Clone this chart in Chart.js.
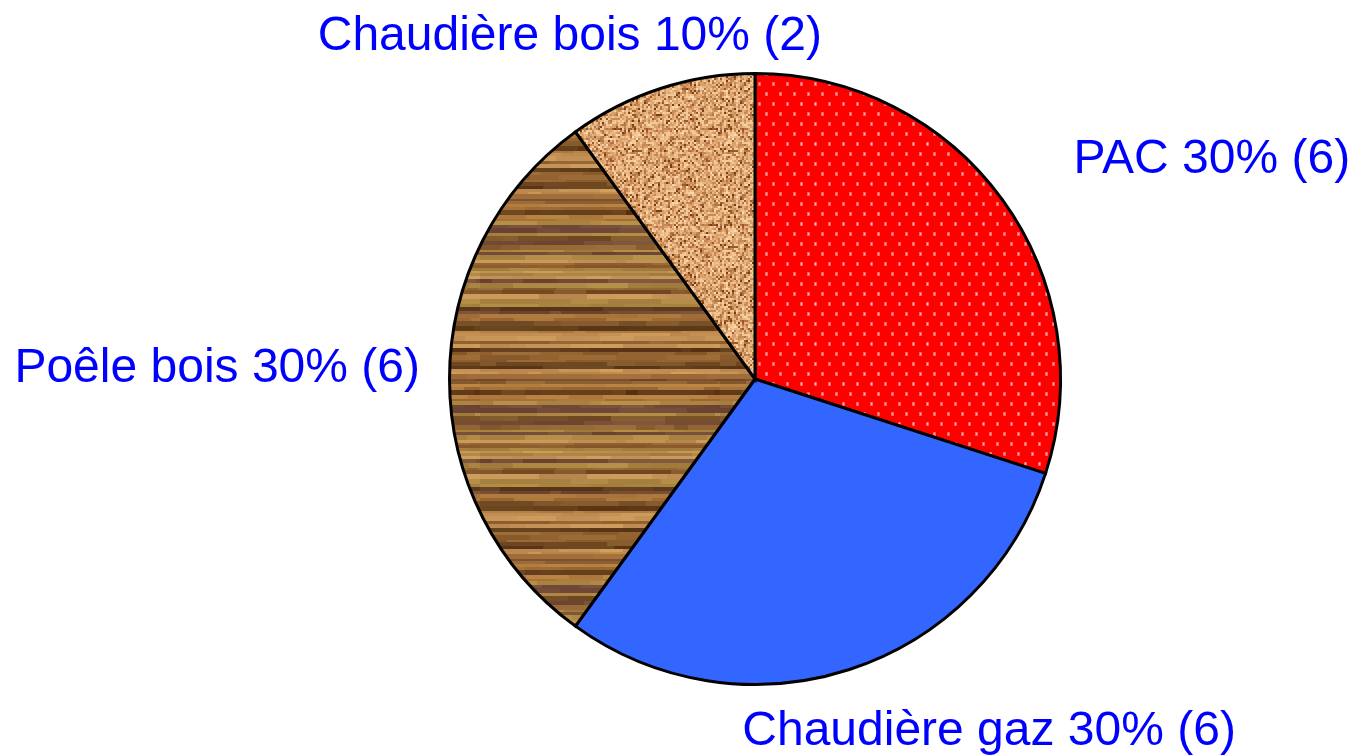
<!DOCTYPE html>
<html>
<head>
<meta charset="utf-8">
<script src="https://cdn.jsdelivr.net/npm/chart.js@4"></script>
<style>
  body { margin: 0; background: #fff; }
  #wrap { width: 1356px; height: 755px; }
</style>
</head>
<body>
<div id="wrap"><canvas id="chart" width="1356" height="755"></canvas></div>
<script>
// heating systems, count of answers
const categories = ["PAC", "Chaudière gaz", "Poêle bois", "Chaudière bois"];
const counts = [6, 6, 6, 2];

// small seeded random, only used to paint the textures
function rng(seed) {
  let s = seed;
  return () => { s = (s * 1664525 + 1013904223) % 4294967296; return s / 4294967296; };
}

function makeCanvas(w, h) {
  const c = document.createElement("canvas");
  c.width = w; c.height = h;
  return c;
}

function dotsPattern(ctx) {
  const c = makeCanvas(14, 20);
  const g = c.getContext("2d");
  g.fillStyle = "#ff0000";
  g.fillRect(0, 0, 14, 20);
  g.fillStyle = "#ff6060";
  g.fillRect(2, 2, 3, 4);
  g.fillRect(9, 12, 3, 4);
  g.fillStyle = "#ffb0b0";
  g.fillRect(3, 3, 1, 2);
  g.fillRect(10, 13, 1, 2);
  return ctx.createPattern(c, "repeat");
}

function speckPattern(ctx) {
  const w = 96, h = 96;
  const c = makeCanvas(w, h);
  const g = c.getContext("2d");
  const r = rng(7);
  const cols = ["#f3c99a", "#e8b482", "#d9a06a", "#c88a55", "#b57444", "#9a5a2c", "#7a3e12", "#fbd9b0"];
  for (let y = 0; y < h; y += 2) {
    for (let x = 0; x < w; x += 2) {
      const v = r();
      let k;
      if (v < 0.2) k = 0; else if (v < 0.42) k = 1; else if (v < 0.62) k = 2;
      else if (v < 0.76) k = 3; else if (v < 0.86) k = 4; else if (v < 0.93) k = 5;
      else if (v < 0.97) k = 6; else k = 7;
      g.fillStyle = cols[k];
      g.fillRect(x, y, 2, 2);
    }
  }
  return ctx.createPattern(c, "repeat");
}

function woodPattern(ctx) {
  const w = 240, h = 180;
  const c = makeCanvas(w, h);
  const g = c.getContext("2d");
  const r = rng(11);
  const pal = [[165, 112, 55], [182, 128, 66], [145, 98, 48], [122, 82, 40], [196, 146, 86], [118, 78, 58], [98, 62, 28], [172, 134, 66]];
  let y = 0;
  while (y < h) {
    const rh = 2 + Math.floor(r() * 4);
    const base = pal[Math.floor(r() * pal.length)];
    let x = 0;
    while (x < w) {
      const len = 10 + Math.floor(r() * 50);
      const j = (r() - 0.5) * 26;
      g.fillStyle = `rgb(${base[0] + j | 0},${base[1] + j | 0},${base[2] + j * 0.6 | 0})`;
      g.fillRect(x, y, len, rh);
      x += len;
    }
    y += rh;
  }
  return ctx.createPattern(c, "repeat");
}

// text placement relative to the point at 1.2 x radius on each slice's middle
const labelShift = [[22, 9], [-126, 17], [-374, 3], [-324, 20]];

const sliceLabels = {
  id: "sliceLabels",
  afterDraw(chart) {
    const ctx = chart.ctx;
    const meta = chart.getDatasetMeta(0);
    const data = chart.data.datasets[0].data;
    const total = data.reduce((a, b) => a + b, 0);
    ctx.save();
    ctx.font = "48px 'Liberation Sans', Arial, sans-serif";
    ctx.fillStyle = "#0000ff";
    ctx.textAlign = "left";
    ctx.textBaseline = "alphabetic";
    meta.data.forEach((arc, i) => {
      const p = arc.getProps(["x", "y", "startAngle", "endAngle", "outerRadius"], true);
      const mid = (p.startAngle + p.endAngle) / 2;
      const ax = p.x + Math.cos(mid) * p.outerRadius * 1.2;
      const ay = p.y + Math.sin(mid) * p.outerRadius * 1.2;
      const pct = Math.round(data[i] / total * 100);
      const txt = chart.data.labels[i] + " " + pct + "% (" + data[i] + ")";
      ctx.fillText(txt, ax + labelShift[i][0], ay + labelShift[i][1]);
    });
    ctx.restore();
  }
};

const ctx = document.getElementById("chart").getContext("2d");
const colors = [dotsPattern(ctx), "#3366ff", woodPattern(ctx), speckPattern(ctx)];

new Chart(ctx, {
  type: "pie",
  data: {
    labels: categories,
    datasets: [{
      data: counts,
      backgroundColor: colors,
      borderColor: "#000000",
      borderWidth: 3,
      borderJoinStyle: "miter"
    }]
  },
  options: {
    responsive: false,
    animation: false,
    layout: { padding: { left: 448, right: 294, top: 72, bottom: 69 } },
    plugins: { legend: { display: false }, tooltip: { enabled: false } }
  },
  plugins: [sliceLabels]
});
</script>
</body>
</html>
